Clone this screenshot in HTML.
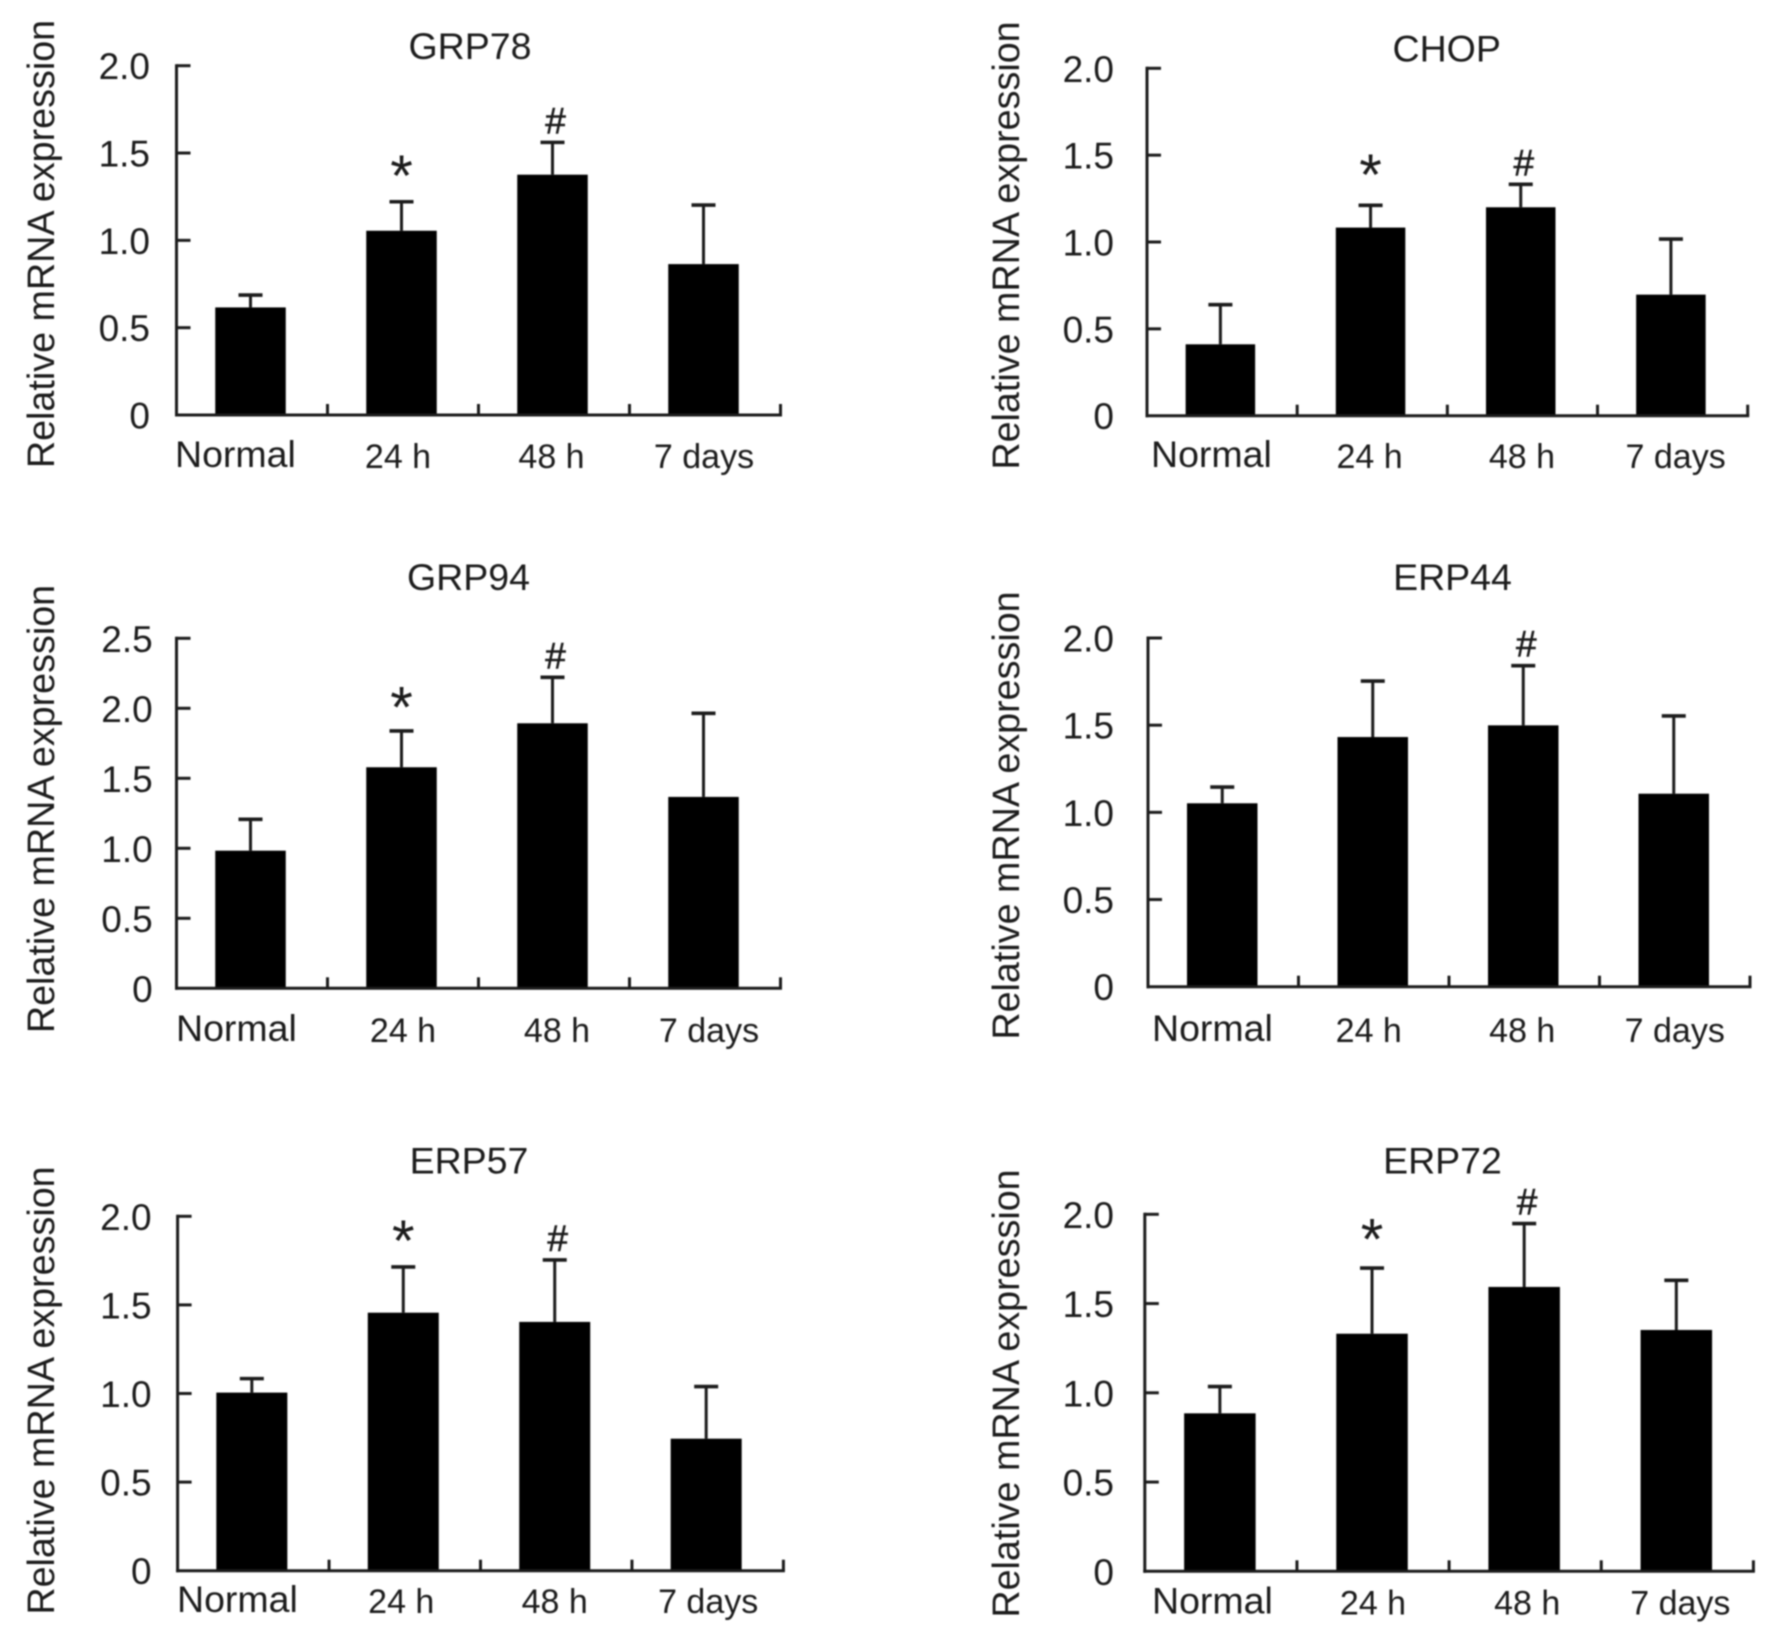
<!DOCTYPE html>
<html lang="en">
<head>
<meta charset="utf-8">
<title>Relative mRNA expression of ER stress genes</title>
<style>
  html, body { margin: 0; padding: 0; background: #fff; }
  #figure { display: block; width: 1777px; height: 1648px; filter: blur(0.7px); }
  text { font-family: "Liberation Sans", Arial, sans-serif; fill: #1c1c1c; }
</style>
</head>
<body>
<svg id="figure" xmlns="http://www.w3.org/2000/svg" width="1777" height="1648" viewBox="0 0 1777 1648"></svg>
<script>
const categories = ['Normal', '24 h', '48 h', '7 days'];
const yAxisTitle = 'Relative mRNA expression';

const ticks20 = [0, 0.5, 1.0, 1.5, 2.0];
const tickLabels20 = ['0', '0.5', '1.0', '1.5', '2.0'];
const ticks25 = [0, 0.5, 1.0, 1.5, 2.0, 2.5];
const tickLabels25 = ['0', '0.5', '1.0', '1.5', '2.0', '2.5'];

const grp78Means = [0.616, 1.055, 1.376, 0.864];
const grp78Upper = [0.687, 1.221, 1.561, 1.202];
const grp78Marks = ['', '*', '#', ''];

const chopMeans = [0.411, 1.083, 1.200, 0.697];
const chopUpper = [0.639, 1.211, 1.332, 1.017];
const chopMarks = ['', '*', '#', ''];

const grp94Means = [0.983, 1.579, 1.893, 1.367];
const grp94Upper = [1.207, 1.838, 2.221, 1.964];
const grp94Marks = ['', '*', '#', ''];

const erp44Means = [1.052, 1.432, 1.499, 1.107];
const erp44Upper = [1.145, 1.753, 1.841, 1.553];
const erp44Marks = ['', '', '#', ''];

const erp57Means = [1.005, 1.456, 1.404, 0.745];
const erp57Upper = [1.084, 1.714, 1.754, 1.039];
const erp57Marks = ['', '*', '#', ''];

const erp72Means = [0.885, 1.331, 1.593, 1.352];
const erp72Upper = [1.035, 1.699, 1.948, 1.630];
const erp72Marks = ['', '*', '#', ''];

const panels = [
  { title: 'GRP78', slug: 'grp78', means: grp78Means, upper: grp78Upper, marks: grp78Marks, ticks: ticks20, tickLabels: tickLabels20, yMax: 2,
    frame: { left: 176.5, right: 780.5, top: 65.7, base: 415 }, barDx: -1.5, barW: 70.5, starLift: 4.5,
    titleAt: [470, 59], yTitleAt: [54, 244], tickRight: 150, normalLeft: 175, catBase: 467.5, catDx: [0, -5, -2.5, -1] },
  { title: 'CHOP', slug: 'chop', means: chopMeans, upper: chopUpper, marks: chopMarks, ticks: ticks20, tickLabels: tickLabels20, yMax: 2,
    frame: { left: 1147, right: 1747.7, top: 68.3, base: 415.7 }, barDx: -1.7, barW: 69.5, starLift: 9,
    titleAt: [1446.7, 61.7], yTitleAt: [1019, 245.5], tickRight: 1114, normalLeft: 1151, catBase: 467.5, catDx: [0, -2.7, -0.5, 3] },
  { title: 'GRP94', slug: 'grp94', means: grp94Means, upper: grp94Upper, marks: grp94Marks, ticks: ticks25, tickLabels: tickLabels25, yMax: 2.5,
    frame: { left: 176.5, right: 780.5, top: 638.3, base: 988.3 }, barDx: -1.5, barW: 70.5, starLift: 2,
    titleAt: [468.5, 590], yTitleAt: [54, 809], tickRight: 152.7, normalLeft: 176, catBase: 1041.5, catDx: [0, 0, 3, 4] },
  { title: 'ERP44', slug: 'erp44', means: erp44Means, upper: erp44Upper, marks: erp44Marks, ticks: ticks20, tickLabels: tickLabels20, yMax: 2,
    frame: { left: 1148, right: 1750, top: 638, base: 986.7 }, barDx: -1, barW: 70.5, starLift: 0,
    titleAt: [1452.5, 590], yTitleAt: [1019, 815.5], tickRight: 1114, normalLeft: 1152, catBase: 1041.5, catDx: [0, -5, -2, 0] },
  { title: 'ERP57', slug: 'erp57', means: erp57Means, upper: erp57Upper, marks: erp57Marks, ticks: ticks20, tickLabels: tickLabels20, yMax: 2,
    frame: { left: 177.6, right: 783.4, top: 1216.3, base: 1570.7 }, barDx: -1.5, barW: 71, starLift: 4.5,
    titleAt: [469, 1173.7], yTitleAt: [54, 1390.5], tickRight: 151.6, normalLeft: 177, catBase: 1612.5, catDx: [0, -3.5, -1.5, 0.5] },
  { title: 'ERP72', slug: 'erp72', means: erp72Means, upper: erp72Upper, marks: erp72Marks, ticks: ticks20, tickLabels: tickLabels20, yMax: 2,
    frame: { left: 1144.8, right: 1753.4, top: 1214.3, base: 1571.3 }, barDx: -1, barW: 71.5, starLift: 7,
    titleAt: [1442.5, 1173.7], yTitleAt: [1019, 1393.5], tickRight: 1114, normalLeft: 1152, catBase: 1614, catDx: [0, 0, 2, 3] }
];

const NS = 'http://www.w3.org/2000/svg';
const figure = document.getElementById('figure');

function make(tag, attrs, parent) {
  const el = document.createElementNS(NS, tag);
  for (const k in attrs) el.setAttribute(k, attrs[k]);
  parent.appendChild(el);
  return el;
}

function drawLine(parent, x1, y1, x2, y2, width) {
  return make('line', { x1: x1, y1: y1, x2: x2, y2: y2, stroke: '#1c1c1c', 'stroke-width': width }, parent);
}

function drawPanel(p) {
  const g = make('g', {}, figure);
  
  

  const f = p.frame;
  const yScale = function (v) { return f.base - (v / p.yMax) * (f.base - f.top); };
  const band = (f.right - f.left) / categories.length;
  const xCenter = function (i) { return f.left + band * (i + 0.5); };
  const barCenter = function (i) { return xCenter(i) + p.barDx; };

  const title = make('text', { x: p.titleAt[0], y: p.titleAt[1], 'text-anchor': 'middle', 'font-size': 37.5 }, g);
  title.textContent = p.title;
  
  

  const yTitle = make('text', { transform: 'translate(' + p.yTitleAt[0] + ',' + p.yTitleAt[1] + ') rotate(-90)', 'text-anchor': 'middle', 'font-size': 37.7 }, g);
  yTitle.textContent = yAxisTitle;
  
  

  // bars and error bars
  p.means.forEach(function (m, i) {
    const cx = barCenter(i);
    const stem = drawLine(g, cx, yScale(p.upper[i]), cx, yScale(m), 3);
    
    

    const cap = drawLine(g, cx - 12, yScale(p.upper[i]), cx + 12, yScale(p.upper[i]), 3.6);
    
    

    const bar = make('rect', { x: cx - p.barW / 2, y: yScale(m), width: p.barW, height: f.base - yScale(m), fill: '#000' }, g);
    
    

    if (p.marks[i] === '*') {
      const star = make('text', { x: cx, y: yScale(p.upper[i]) - 28 - p.starLift + 26.7, 'text-anchor': 'middle', 'font-size': 58 }, g);
      star.textContent = '*';
      
      
    } else if (p.marks[i] === '#') {
      const hash = make('text', { x: cx + 3, y: yScale(p.upper[i]) - 9, 'text-anchor': 'middle', 'font-size': 37, stroke: '#1c1c1c', 'stroke-width': 0.6 }, g);
      hash.textContent = '#';
      
      
    }

    const isFirst = i === 0;
    const label = make('text', {
      x: isFirst ? p.normalLeft : xCenter(i) + p.catDx[i],
      y: isFirst ? p.catBase - 0.5 : p.catBase + 0.5,
      'text-anchor': isFirst ? 'start' : 'middle',
      'font-size': isFirst ? 37.5 : 34
    }, g);
    label.textContent = categories[i];
    
    
  });

  // axes
  const yAxis = drawLine(g, f.left, f.top - 1.5, f.left, f.base + 1.5, 3);
  
  

  const xAxis = drawLine(g, f.left - 1.5, f.base, f.right + 1.5, f.base, 3);
  
  

  p.ticks.forEach(function (t, i) {
    const y = yScale(t);
    if (t !== 0) {
      const tick = drawLine(g, f.left, y, f.left + 14, y, 3);
      
      
    }
    const lab = make('text', { x: p.tickRight, y: y + 13.5, 'text-anchor': 'end', 'font-size': 37 }, g);
    lab.textContent = p.tickLabels[i];
    
    
  });

  categories.forEach(function (c, i) {
    const x = f.left + band * (i + 1);
    const tick = drawLine(g, x, f.base, x, f.base - 11, 3);
    
    
  });
}

panels.forEach(drawPanel);
</script>
</body>
</html>
